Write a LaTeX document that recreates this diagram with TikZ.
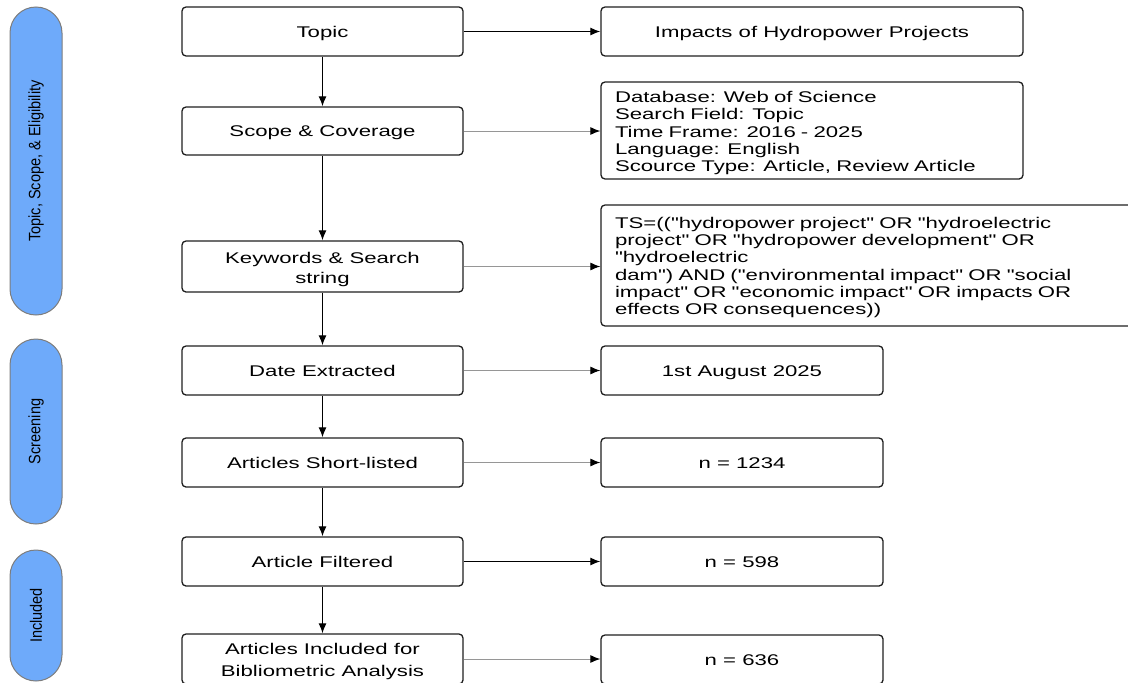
\documentclass[tikz,border=0pt]{standalone}
\usepackage{fontspec}
\usetikzlibrary{arrows.meta}
\newfontfamily\boxfont[FakeStretch=1.43,Ligatures=TeXOff]{Liberation Sans}
\newfontfamily\pillfont[FakeStretch=0.88]{Liberation Sans}
\definecolor{pillblue}{RGB}{110,170,250}
\definecolor{pilledge}{RGB}{125,125,125}
\definecolor{edge}{RGB}{30,30,30}
\definecolor{lightline}{RGB}{150,150,150}
\begin{document}
\begin{tikzpicture}[x=1pt,y=-1pt,
  box/.style={draw=edge,line width=1.3pt,rounded corners=4pt,inner sep=0pt,align=center,
    font=\boxfont\fontsize{15.5}{17.2}\selectfont},
  oneline/.style={text height=11pt,text depth=0pt},
  mainbox/.style={box,minimum width=281pt,minimum height=49pt},
  smallbox/.style={box,oneline,minimum width=282pt,minimum height=49pt},
  boxtext/.style={inner sep=0pt,font=\boxfont\fontsize{15.5}{17.2}\selectfont},
  pill/.style={draw=pilledge,line width=1pt,fill=pillblue,rounded corners=26pt,minimum width=52pt,inner sep=0pt,
    font=\pillfont\fontsize{16.5}{18}\selectfont},
  varr/.style={draw=black,line width=1.2pt,-{Latex[length=10pt,width=8pt]}},
  harr/.style={draw=black,line width=1.2pt,-{Latex[length=10pt,width=8pt,color=black]}},
  harrl/.style={draw=lightline,line width=1pt,-{Latex[length=10pt,width=8pt,color=black]}}
]
\useasboundingbox (0,0) rectangle (1128,683);
\clip (0,0) rectangle (1128,683);

% phase pills
\node[pill,minimum height=308pt] (p1) at (36,161) {\rotatebox{90}{Topic, Scope, \& Eligibility}};
\node[pill,minimum height=185pt] (p2) at (36,431.5) {\rotatebox{90}{Screening}};
\node[pill,minimum height=131pt] (p3) at (36,615.5) {\rotatebox{90}{Included}};

% main column
\node[mainbox,oneline] (topic) at (322.5,31.5) {Topic};
\node[mainbox,oneline,minimum height=48pt] (scope) at (322.5,131) {Scope \& Coverage};
\node[mainbox,minimum height=51pt] (kw) at (322.5,266.5) {};
\node[boxtext,align=center,font=\boxfont\fontsize{15.5}{20}\selectfont] (kwt) at (322.5,269) {Keywords \& Search\\string};
\node[mainbox,oneline] (date) at (322.5,370.5) {Date Extracted};
\node[mainbox,oneline] (short) at (322.5,462.5) {Articles Short-listed};
\node[mainbox,oneline] (filt) at (322.5,561.5) {Article Filtered};
\node[mainbox,minimum height=50pt] (incl) at (322.5,659) {};
\node[boxtext,align=center,font=\boxfont\fontsize{15.5}{22}\selectfont] (inclt) at (322.5,661) {Articles Included for\\Bibliometric Analysis};

% right column
\node[box,oneline,minimum width=422pt,minimum height=49pt] (imp) at (812,31.5) {Impacts of Hydropower Projects};
\node[box,minimum width=422pt,minimum height=97pt] (db) at (812,130.5) {};
\node[boxtext,align=left,text width=394pt] (dbt) at (812,133)
  {Database: Web of Science\\Search Field: Topic\\Time Frame: 2016 - 2025\\Language: English\\Scource Type: Article, Review Article};
\node[box,minimum width=534pt,minimum height=121pt] (ts) at (868,265.5) {};
\node[boxtext,align=left,text width=506pt] (tst) at (868,267.5)
  {TS=(("hydropower project" OR "hydroelectric\\project" OR "hydropower development" OR\\"hydroelectric\\dam") AND ("environmental impact" OR "social\\impact" OR "economic impact" OR impacts OR\\effects OR consequences))};
\node[smallbox] (aug) at (742,370.5) {1st August 2025};
\node[smallbox] (n1) at (742,462.5) {n = 1234};
\node[smallbox] (n2) at (742,561.5) {n = 598};
\node[smallbox] (n3) at (742,659.5) {n = 636};

% vertical flow
\draw[varr] (topic) -- (scope);
\draw[varr] (scope) -- (kw);
\draw[varr] (kw) -- (date);
\draw[varr] (date) -- (short);
\draw[varr] (short) -- (filt);
\draw[varr] (filt) -- (incl);

% horizontal arrows
\draw[harr] (topic.east) -- (topic.east -| imp.west);
\draw[harrl] (scope.east) -- (scope.east -| db.west);
\draw[harrl] (kw.east) -- (kw.east -| ts.west);
\draw[harrl] (date.east) -- (date.east -| aug.west);
\draw[harrl] (short.east) -- (short.east -| n1.west);
\draw[harr] (filt.east) -- (filt.east -| n2.west);
\draw[harrl] (incl.east) -- (incl.east -| n3.west);
\end{tikzpicture}
\end{document}
